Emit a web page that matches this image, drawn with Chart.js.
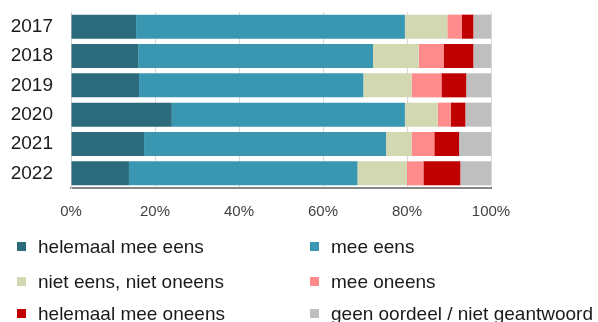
<!DOCTYPE html>
<html>
<head>
<meta charset="utf-8">
<script src="https://cdn.jsdelivr.net/npm/chart.js@4"></script>
<style>
  body { margin: 0; background: #fff; }
  #wrap { position: relative; width: 598px; height: 322px; }
  #legend { position: absolute; left: 0; top: 0; width: 598px; height: 322px; pointer-events: none;
            font-family: "Liberation Sans", Arial, sans-serif; font-size: 19px; color: #1a1a1a; }
  .item { position: absolute; height: 22px; line-height: 22px; white-space: nowrap; }
  .box { position: absolute; width: 9px; height: 9px; top: 6px; }
  .txt { position: absolute; top: 0; }
</style>
</head>
<body>
<div id="wrap">
  <canvas id="chart" width="598" height="322"></canvas>
  <div id="legend"></div>
</div>
<script>
var years = ['2017', '2018', '2019', '2020', '2021', '2022'];
var seriesNames = ['helemaal mee eens', 'mee eens', 'niet eens, niet oneens', 'mee oneens', 'helemaal mee oneens', 'geen oordeel / niet geantwoord'];
var seriesColors = ['#2c6b7c', '#3a97b1', '#d2d8b1', '#ff8b8b', '#c00000', '#bfbfbf'];

var helemaalEens   = [15.5, 16.0, 16.2, 24.0, 17.4, 13.8];
var meeEens        = [64.0, 55.9, 53.4, 55.5, 57.6, 54.4];
var neutraal       = [10.1, 10.9, 11.5,  7.8,  6.1, 11.8];
var meeOneens      = [ 3.4,  5.9,  7.1,  3.1,  5.4,  3.9];
var helemaalOneens = [ 2.8,  7.1,  5.9,  3.5,  5.9,  8.8];
var geenOordeel    = [ 4.2,  4.2,  5.9,  6.1,  7.6,  7.3];

var xTicks = [0, 20, 40, 60, 80, 100];

var seriesData = [helemaalEens, meeEens, neutraal, meeOneens, helemaalOneens, geenOordeel];

var datasets = seriesData.map(function (d, i) {
  return {
    label: seriesNames[i],
    data: d,
    backgroundColor: seriesColors[i],
    borderWidth: 0,
    barPercentage: 0.82,
    categoryPercentage: 1.0
  };
});

var ctx = document.getElementById('chart');
var myChart = new Chart(ctx, {
  type: 'bar',
  data: {
    labels: years,
    datasets: datasets
  },
  options: {
    indexAxis: 'y',
    responsive: false,
    animation: false,
    layout: {
      padding: { left: 0, right: 107, top: 12, bottom: 86 }
    },
    plugins: {
      legend: { display: false },
      tooltip: { enabled: false }
    },
    scales: {
      x: {
        stacked: true,
        min: 0,
        max: 100,
        afterBuildTicks: function (scale) {
          scale.ticks = xTicks.map(function (v) { return { value: v }; });
        },
        ticks: {
          callback: function (v) { return v + '%'; },
          font: { family: 'Liberation Sans', size: 15 },
          color: '#404040',
          padding: 15,
          maxRotation: 0
        },
        grid: { color: '#d9d9d9', lineWidth: 1, drawTicks: false },
        border: { color: '#868686', width: 2 }
      },
      y: {
        stacked: true,
        afterFit: function (scale) {
          scale.width = 71;
          scale.paddingTop = 0;
          scale.paddingBottom = 0;
        },
        ticks: {
          font: { family: 'Liberation Sans', size: 19 },
          color: '#1a1a1a',
          padding: 18,
          autoSkip: false
        },
        grid: { display: false, drawTicks: false },
        border: { color: '#d0d0d0', width: 1 }
      }
    }
  }
});

// legend in two columns, like the original
var legendEl = document.getElementById('legend');
var colX = [17, 310];
var rowY = [247, 282, 314];
seriesNames.forEach(function (name, i) {
  var item = document.createElement('div');
  item.className = 'item';
  item.style.left = colX[i % 2] + 'px';
  item.style.top = (rowY[Math.floor(i / 2)] - 11) + 'px';
  var box = document.createElement('div');
  box.className = 'box';
  box.style.left = '0px';
  box.style.background = seriesColors[i];
  var txt = document.createElement('div');
  txt.className = 'txt';
  txt.style.left = '21px';
  txt.textContent = name;
  item.appendChild(box);
  item.appendChild(txt);
  legendEl.appendChild(item);
});
</script>
</body>
</html>
